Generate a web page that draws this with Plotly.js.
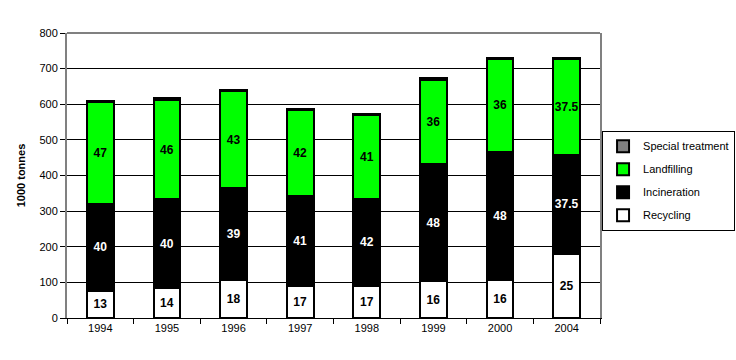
<!DOCTYPE html>
<html>
<head>
<meta charset="utf-8">
<script src="https://cdn.plot.ly/plotly-3.0.1.min.js"></script>
<style>html,body{margin:0;padding:0;background:#fff;}#chart{width:736px;height:360px;}</style>
</head>
<body>
<div id="chart"></div>
<script>
var years = ["1994", "1995", "1996", "1997", "1998", "1999", "2000", "2004"];
var recycling = [77, 83, 108, 91, 91, 103, 108, 181];
var incineration = [244, 251, 257, 252, 243, 329, 358, 276];
var landfilling = [285, 277, 272, 242, 235, 235, 262, 271];
var special = [2, 7, 4, 3, 4, 8, 2, 2];
var recyclingPct = ["13", "14", "18", "17", "17", "16", "16", "25"];
var incinerationPct = ["40", "40", "39", "41", "42", "48", "48", "37.5"];
var landfillingPct = ["47", "46", "43", "42", "41", "36", "36", "37.5"];
var yTicks = [0, 100, 200, 300, 400, 500, 600, 700, 800];

var FONT = "Arial, 'Liberation Sans', sans-serif";
function barTrace(name, vals, txt, fill, txtColor, rank) {
  return {
    type: "bar", name: name, x: years, y: vals, legendgroup: name, legendrank: rank,
    text: txt, textposition: txt ? "inside" : "none", textangle: 0,
    insidetextanchor: "middle", constraintext: "none",
    textfont: {family: FONT, size: 12, color: txtColor, weight: "bold"},
    marker: {color: fill, line: {color: "#000", width: 2}},
    hoverinfo: "none"
  };
}
var data = [
  barTrace("Recycling", recycling, recyclingPct, "#ffffff", "#000", 4),
  barTrace("Incineration", incineration, incinerationPct, "#000000", "#ffffff", 3),
  barTrace("Landfilling", landfilling, landfillingPct, "#00ff00", "#000", 2),
  barTrace("Special treatment", special, null, "#808080", "#000", 1)
];
var layout = {
  width: 736, height: 360,
  margin: {l: 67, r: 136, t: 33, b: 42, pad: 0},
  paper_bgcolor: "#fff", plot_bgcolor: "#fff",
  barmode: "stack", bargap: 0.6,
  font: {family: FONT, size: 11, color: "#000"},
  xaxis: {
    type: "category", showline: true, linecolor: "#000", linewidth: 1,
    ticks: "outside", tickson: "boundaries", ticklen: 5, tickcolor: "#000",
    showgrid: false, tickfont: {size: 11}, automargin: false
  },
  yaxis: {
    range: [0, 800], tickvals: yTicks, showline: true, linecolor: "#808080", linewidth: 2,
    mirror: true, ticks: "outside", ticklen: 5, tickcolor: "#000",
    showgrid: true, gridcolor: "#000", gridwidth: 1, zeroline: false,
    tickfont: {size: 11}, automargin: false,
    title: {text: "1000 tonnes", font: {size: 11, weight: "bold"}, standoff: 12}
  },
  shapes: [{type: "line", xref: "paper", yref: "paper", x0: 0, x1: 1, y0: 1, y1: 1,
            line: {color: "#808080", width: 2}, layer: "above"}],
  legend: {
    xref: "container", yref: "container",
    x: 0.818, y: 0.637, xanchor: "left", yanchor: "top",
    bordercolor: "#000", borderwidth: 1, bgcolor: "#fff",
    traceorder: "grouped", tracegroupgap: 4, itemwidth: 30,
    font: {size: 11}
  },
  showlegend: true
};
Plotly.newPlot("chart", data, layout, {staticPlot: true});
</script>
</body>
</html>
